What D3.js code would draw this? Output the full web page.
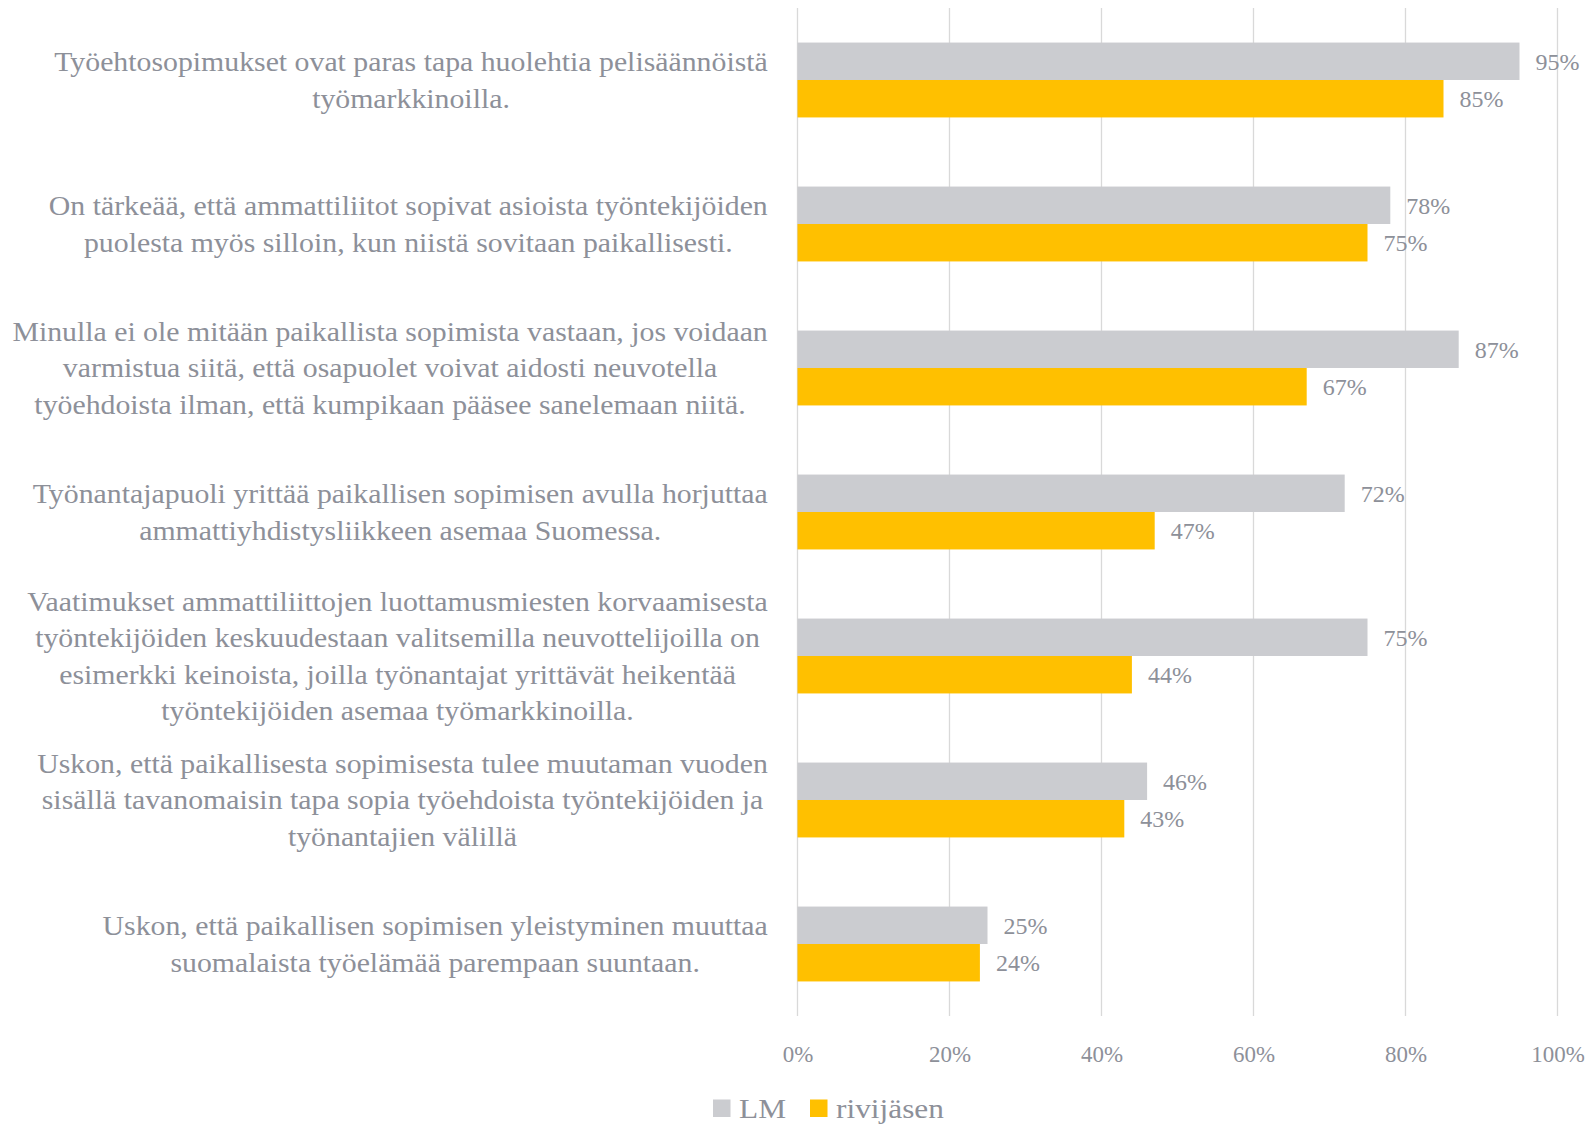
<!DOCTYPE html>
<html><head><meta charset="utf-8">
<script src="https://cdn.jsdelivr.net/npm/d3@7"></script>
<style>
html,body{margin:0;padding:0;background:#fff;}
svg{display:block;}
text{font-family:"Liberation Serif","Times New Roman",serif;}
</style></head>
<body>
<svg id="chart" width="1589" height="1127"></svg>
<script>
// ---- data ----
const categories = [
  "Työehtosopimukset ovat paras tapa huolehtia pelisäännöistä\ntyömarkkinoilla.",
  "On tärkeää, että ammattiliitot sopivat asioista työntekijöiden\npuolesta myös silloin, kun niistä sovitaan paikallisesti.",
  "Minulla ei ole mitään paikallista sopimista vastaan, jos voidaan\nvarmistua siitä, että osapuolet voivat aidosti neuvotella\ntyöehdoista ilman, että kumpikaan pääsee sanelemaan niitä.",
  "Työnantajapuoli yrittää paikallisen sopimisen avulla horjuttaa\nammattiyhdistysliikkeen asemaa Suomessa.",
  "Vaatimukset ammattiliittojen luottamusmiesten korvaamisesta\ntyöntekijöiden keskuudestaan valitsemilla neuvottelijoilla on\nesimerkki keinoista, joilla työnantajat yrittävät heikentää\ntyöntekijöiden asemaa työmarkkinoilla.",
  "Uskon, että paikallisesta sopimisesta tulee muutaman vuoden\nsisällä tavanomaisin tapa sopia työehdoista työntekijöiden ja\ntyönantajien välillä",
  "Uskon, että paikallisen sopimisen yleistyminen muuttaa\nsuomalaista työelämää parempaan suuntaan."
];
const seriesNames = ["LM", "rivijäsen"];
const valuesLM = [95, 78, 87, 72, 75, 46, 25];
const valuesRivi = [85, 75, 67, 47, 44, 43, 24];
const tickValues = [0, 20, 40, 60, 80, 100];

// ---- layout ----
const colors = ["#cbccd0", "#ffc000"];
const textColor = "#8d9099";
const svg = d3.select("#chart");

// horizontal stretch so that a sample string reaches a given width (wide book face look)
function fitScale(sample, size, targetW) {
  const t = svg.append("text").attr("font-size", size).text(sample);
  const w = t.node().getComputedTextLength();
  t.remove();
  return targetW / w;
}
const catSize = 27, valSize = 23, tickSz = 23, legSize = 28;
const catSx = fitScale("Työehtosopimukset ovat paras tapa huolehtia pelisäännöistä", catSize, 714);
const valSx = fitScale("95%", valSize, 44);
const tickSx = fitScale("100%", tickSz, 53.5);
const legSx = fitScale("rivijäsen", legSize, 108);

// text helper: anchor at (x,y) with horizontal stretch
function stext(parent, x0, y0, str, size, sx, anchor) {
  return parent.append("text")
    .attr("transform", `translate(${x0},${y0}) scale(${sx},1)`)
    .attr("font-size", size)
    .attr("fill", textColor)
    .attr("text-anchor", anchor || "start")
    .attr("dy", "0.35em")
    .text(str);
}

const x = d3.scaleLinear().domain([0, 100]).range([797.5, 1557.5]);
const y = d3.scaleBand().domain(d3.range(categories.length)).range([8, 1016]).paddingInner(0.48).paddingOuter(0.24);
const ySub = d3.scaleBand().domain([0, 1]).range([0, y.bandwidth()]);

// gridlines
svg.append("g").selectAll("line").data(tickValues).join("line")
  .attr("x1", d => x(d)).attr("x2", d => x(d))
  .attr("y1", 8).attr("y2", 1016)
  .attr("stroke", "#d9d9d9").attr("stroke-width", 1.3);

// axis (tick positions from the scale, labels stretched like the rest)
const axis = svg.append("g").attr("transform", "translate(0,1016)")
  .call(d3.axisBottom(x).tickValues(tickValues).tickFormat(d => d + "%").tickSize(0).tickPadding(0));
axis.select(".domain").remove();
axis.selectAll(".tick text")
  .attr("y", 0).attr("dy", "0.35em")
  .attr("transform", `translate(0,38) scale(${tickSx},1)`)
  .attr("font-size", tickSz).attr("fill", textColor)
  .style("font-family", '"Liberation Serif",serif');

// bars
const series = [valuesLM, valuesRivi];
series.forEach((vals, si) => {
  const g = svg.append("g");
  g.selectAll("rect").data(vals).join("rect")
    .attr("x", x(0))
    .attr("y", (d, i) => y(i) + ySub(si))
    .attr("width", d => x(d) - x(0))
    .attr("height", ySub.bandwidth())
    .attr("fill", colors[si]);
  vals.forEach((d, i) => {
    stext(g, x(d) + 16, y(i) + ySub(si) + ySub.bandwidth() / 2 + 0.5, d + "%", valSize, valSx);
  });
});

// category labels: block right-aligned at rightEdge, lines centered in block
const rightEdge = 768;
const lineH = 36.5;
categories.forEach((c, i) => {
  const lines = c.split("\n");
  const cy = y(i) + y.bandwidth() / 2;
  const g = svg.append("g");
  const widths = lines.map(ln => {
    const t = g.append("text").attr("font-size", catSize).text(ln);
    const w = t.node().getComputedTextLength() * catSx;
    t.remove();
    return w;
  });
  const maxW = d3.max(widths);
  lines.forEach((ln, j) => {
    stext(g, rightEdge - maxW / 2, cy + (j - (lines.length - 1) / 2) * lineH, ln, catSize, catSx, "middle");
  });
});

// legend
const legend = svg.append("g").attr("transform", "translate(713,1108)");
const lx = [0, 97];
seriesNames.forEach((n, i) => {
  legend.append("rect").attr("x", lx[i]).attr("y", -8.5).attr("width", 17.5).attr("height", 17.5).attr("fill", colors[i]);
  stext(legend, lx[i] + 26, 0, n, legSize, legSx);
});
</script>
</body></html>
